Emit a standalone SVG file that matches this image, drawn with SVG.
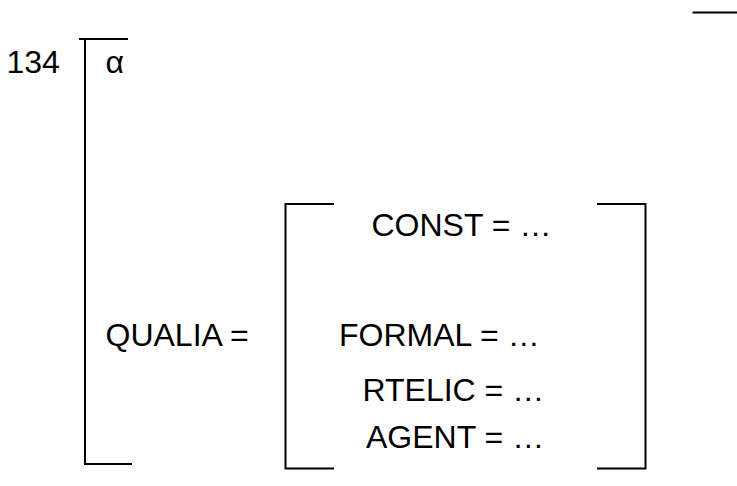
<svg xmlns="http://www.w3.org/2000/svg" width="737" height="486" viewBox="0 0 737 486">
<style>
.t{font-family:"Liberation Sans",Arial,sans-serif;font-size:32px;fill:#000}
.b{stroke:#000;stroke-width:2;fill:none}
</style>
<rect width="737" height="486" fill="#fff"/>
<g id="label"><text class="t" x="6.5" y="73">134</text></g>
<g id="alpha"><text class="t" x="105.5" y="73">α</text></g>
<g id="qualia"><text class="t" x="105.5" y="346">QUALIA =</text></g>
<g id="const"><text class="t" x="371.5" y="236">CONST = …</text></g>
<g id="formal"><text class="t" x="339" y="346">FORMAL = …</text></g>
<g id="rtelic"><text class="t" x="362.5" y="401">RTELIC = …</text></g>
<g id="agent"><text class="t" x="366" y="448">AGENT = …</text></g>
<g id="brackets">
<path class="b" d="M79,39 H128"/>
<path class="b" d="M85,40 V464 H132"/>
<path class="b" d="M334,204 H285.5 V468.5 H334"/>
<path class="b" d="M597,204 H645.5 V468.5 H597"/>
<path class="b" d="M692.5,12.5 H737"/>
</g>
</svg>
